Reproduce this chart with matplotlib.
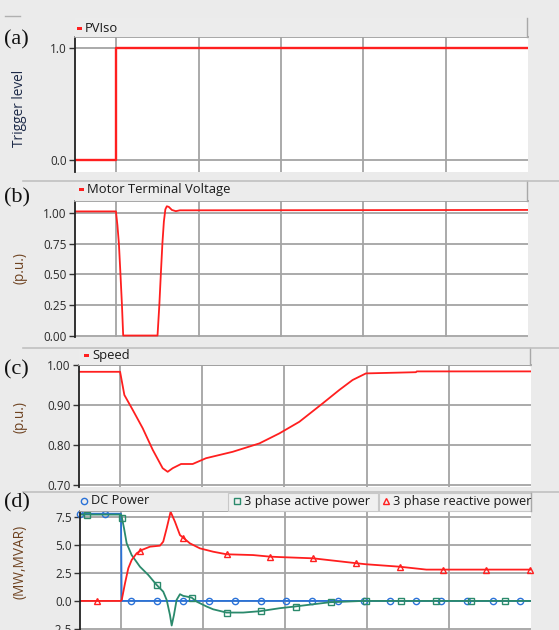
"""Four stacked transient plots: trigger, voltage, speed, power."""

import matplotlib.pyplot as plt
from matplotlib.patches import Rectangle
from matplotlib.lines import Line2D

W, H = 559, 630
BG = "#ebebeb"
GRID = "#a4a4a4"
RED = "#ff1f1f"
BLUE = "#2a72d8"
GREEN = "#2b8a6c"

# time axis (same for all panels), gridlines every 1 unit
T_MIN, T_MAX = 0.5, 6.0
T_GRID = [1, 2, 3, 4, 5]

# (a) trigger level
trig_t = [0.5, 1.0, 1.0, 6.0]
trig_v = [0.0, 0.0, 1.0, 1.0]

# (b) motor terminal voltage (p.u.)
volt_t = [0.5, 0.997, 1.015, 1.033, 1.052, 1.070, 1.085, 1.502, 1.524, 1.542,
          1.561, 1.579, 1.597, 1.615, 1.639, 1.676, 1.724, 1.773, 6.0]
volt_v = [1.013, 1.013, 0.90, 0.75, 0.50, 0.25, 0.0, 0.0, 0.25, 0.50,
          0.75, 0.93, 1.03, 1.055, 1.05, 1.025, 1.015, 1.022, 1.025]

# (c) speed (p.u.)
speed_t = [0.5, 1.0, 1.052, 1.153, 1.275, 1.397, 1.518, 1.579, 1.64, 1.742,
           1.883, 2.046, 2.37, 2.695, 2.938, 3.181, 3.465, 3.667, 3.829,
           3.992, 4.6, 4.61, 6.0]
speed_v = [0.983, 0.983, 0.925, 0.888, 0.842, 0.788, 0.742, 0.733, 0.742,
           0.7525, 0.7525, 0.767, 0.783, 0.804, 0.829, 0.858, 0.904, 0.9375,
           0.9625, 0.979, 0.982, 0.984, 0.984]

# (d) powers (MW, MVAR)
dc_t = [0.5, 1.0, 1.008, 6.0]
dc_v = [7.8, 7.8, 0.0, 0.0]
dc_mk_t = [0.5, 0.805, 1.122, 1.435, 1.752, 2.072, 2.389, 2.702, 3.010,
           3.335, 3.647, 3.964, 4.277, 4.593, 4.906, 5.214, 5.535, 5.860]
dc_mk_v = [7.8, 7.8] + [0.0] * 16

p_t = [0.5, 1.0, 1.009, 1.037, 1.069, 1.130, 1.231, 1.333, 1.435, 1.515,
       1.557, 1.597, 1.618, 1.646, 1.678, 1.719, 1.759, 1.861, 1.922, 2.044,
       2.124, 2.287, 2.490, 2.693, 2.937, 3.119, 3.546, 3.951, 6.0]
p_v = [7.72, 7.72, 7.53, 6.49, 5.15, 4.10, 3.06, 2.32, 1.43, 0.83,
       0.09, -1.25, -2.2, -1.25, 0.09, 0.6, 0.45, 0.3, -0.06, -0.5,
       -0.75, -1.04, -1.04, -0.92, -0.65, -0.5, -0.12, 0.0, 0.0]
p_mk_t = [0.582, 1.012, 1.438, 1.865, 2.291, 2.705, 3.132, 3.558, 3.984,
          4.410, 4.837, 5.263, 5.689]
p_mk_v = [7.68, 7.45, 1.43, 0.3, -1.04, -0.9, -0.5, -0.12, 0.0,
          0.0, 0.0, 0.0, 0.0]

q_t = [0.5, 1.0, 1.009, 1.049, 1.089, 1.130, 1.191, 1.252, 1.353, 1.475,
       1.515, 1.557, 1.605, 1.658, 1.719, 1.752, 1.840, 1.962, 2.124, 2.287,
       2.611, 2.815, 2.937, 3.342, 3.871, 3.984, 4.398, 4.724, 6.0]
q_v = [0.0, 0.0, 0.09, 1.58, 2.92, 3.66, 4.26, 4.55, 4.85, 4.94,
       5.3, 6.49, 7.97, 7.08, 5.89, 5.69, 5.15, 4.7, 4.4, 4.17,
       4.1, 3.96, 3.92, 3.81, 3.37, 3.28, 3.06, 2.8, 2.8]
q_mk_t = [0.704, 1.231, 1.759, 2.287, 2.815, 3.342, 3.871, 4.398, 4.926,
          5.454, 5.982]
q_mk_v = [0.0, 4.5, 5.6, 4.17, 3.96, 3.81, 3.37, 3.06, 2.8, 2.8, 2.8]

a_ticks = [0.0, 1.0]
b_ticks = [0.0, 0.25, 0.5, 0.75, 1.0]
c_ticks = [0.7, 0.8, 0.9, 1.0]
d_ticks = [-2.5, 0.0, 2.5, 5.0, 7.5]

UI_FONT = "Open Sans"
plt.rcParams["font.family"] = [UI_FONT, "DejaVu Sans"]

fig = plt.figure(figsize=(W / 100, H / 100), dpi=100, facecolor=BG)


def fx(x):
    return x / W


def fy(y):
    return 1 - y / H


def make_axes(x0, x1, y0, y1, ylim, ticks, fmt, ylabel, ylabel_color, label_y):
    ax = fig.add_axes([fx(x0), fy(y1), fx(x1) - fx(x0), fy(y0) - fy(y1)])
    ax.set_facecolor("white")
    ax.set_xlim(T_MIN, T_MAX)
    ax.set_ylim(*ylim)
    ax.set_xticks(T_GRID)
    ax.set_yticks(ticks)
    ax.set_yticklabels([fmt % v for v in ticks])
    ax.tick_params(axis="x", length=0, labelbottom=False)
    ax.tick_params(axis="y", length=4, width=1, color="#333333", pad=2,
                   labelsize=8.5, labelcolor="#2a2a2a")
    ax.grid(True, color=GRID, lw=1.3)
    ax.set_axisbelow(True)
    for side in ("bottom", "right"):
        ax.spines[side].set_visible(False)
    ax.spines["top"].set_color("#a0a0a0")
    ax.spines["top"].set_linewidth(1.3)
    ax.spines["left"].set_color("#222222")
    ax.spines["left"].set_linewidth(1.3)
    fig.text(fx(20), fy(label_y), ylabel, rotation=90, ha="center",
             va="center", fontsize=9.8, color=ylabel_color)
    return ax


def strip(x0, x1, y0, y1, top_line=True):
    fig.add_artist(Rectangle((fx(x0), fy(y1)), fx(x1) - fx(x0),
                             fy(y0) - fy(y1), transform=fig.transFigure,
                             facecolor="#ececec", edgecolor="none"))
    fig.add_artist(Line2D([fx(x1), fx(x1)], [fy(y0), fy(y1)],
                          transform=fig.transFigure, color="#a8a8a8", lw=1))
    if top_line:
        fig.add_artist(Line2D([fx(23), 1], [fy(y0), fy(y0)],
                              transform=fig.transFigure, color="#c0c0c0",
                              lw=1.2))


def strip_label(x, y, text):
    fig.add_artist(Rectangle((fx(x - 8), fy(y + 1.5)), fx(5), fy(0) - fy(3),
                             transform=fig.transFigure, facecolor=RED,
                             edgecolor="none"))
    fig.text(fx(x), fy(y), text, ha="left", va="center", fontsize=9.4,
             color="#1a1a1a")


def panel_tag(y, text):
    fig.text(fx(4), fy(y), text, ha="left", va="center", fontsize=16,
             family="Liberation Serif", color="#111111")


# short frame remnant at top left
fig.add_artist(Line2D([fx(5), fx(20)], [fy(16), fy(16)],
                      transform=fig.transFigure, color="#b0b0b0", lw=1))

# (a)
strip(75, 527, 18, 37, top_line=False)
ax_a = make_axes(75, 528, 37, 172, (-0.107, 1.098), a_ticks, "%.1f",
                 "Trigger level", "#1d2a48", 108)
ax_a.plot(trig_t, trig_v, color=RED, lw=1.7)
strip_label(85, 28, "PVIso")
panel_tag(40, "(a)")

# (b)
strip(75, 527, 181, 201)
ax_b = make_axes(75, 528, 201, 337, (-0.012, 1.098), b_ticks, "%.2f",
                 "(p.u.)", "#6e4220", 268)
ax_b.plot(volt_t, volt_v, color=RED, lw=1.3)
strip_label(87, 189, "Motor Terminal Voltage")
panel_tag(198, "(b)")

# (c)
strip(79, 530, 348, 365)
ax_c = make_axes(79, 531, 365, 487, (0.695, 1.0), c_ticks, "%.2f",
                 "(p.u.)", "#6e4220", 417)
ax_c.plot(speed_t, speed_v, color=RED, lw=1.3)
strip_label(92, 355, "Speed")
panel_tag(370, "(c)")

# (d)
strip(80, 531, 492, 511)
for bx0, bx1 in ((228, 378), (379, 531)):
    fig.add_artist(Rectangle((fx(bx0), fy(511)), fx(bx1) - fx(bx0),
                             fy(493) - fy(511), transform=fig.transFigure,
                             facecolor="#f0f0f0", edgecolor="#c8c8c8", lw=0.8))
ax_d = make_axes(80, 531, 511, 630, (-2.6, 8.04), d_ticks, "%.1f",
                 "(MW,MVAR)", "#6e4220", 562)
mk = dict(ls="none", mfc="none", ms=4.5, mew=1)
ax_d.plot(dc_t, dc_v, color=BLUE, lw=1.3)
ax_d.plot(dc_mk_t, dc_mk_v, marker="o", color=BLUE, clip_on=False, **mk)
ax_d.plot(p_t, p_v, color=GREEN, lw=1.3)
ax_d.plot(p_mk_t, p_mk_v, marker="s", color=GREEN, **mk)
ax_d.plot(q_t, q_v, color=RED, lw=1.3)
ax_d.plot(q_mk_t, q_mk_v, marker="^", color=RED, clip_on=False, **mk)

legend_items = [(84, "o", BLUE, "DC Power"),
                (237, "s", GREEN, "3 phase active power"),
                (386, "^", RED, "3 phase reactive power")]
for lx, marker, color, text in legend_items:
    fig.add_artist(Line2D([fx(lx)], [fy(501)], transform=fig.transFigure,
                          marker=marker, color=color, mfc="none", ms=4.5,
                          mew=1, ls="none"))
    fig.text(fx(lx + 7), fy(501), text, ha="left", va="center", fontsize=9.2,
             color="#1a1a1a")
panel_tag(503, "(d)")

fig.savefig("out.png", dpi=100, facecolor=BG)
